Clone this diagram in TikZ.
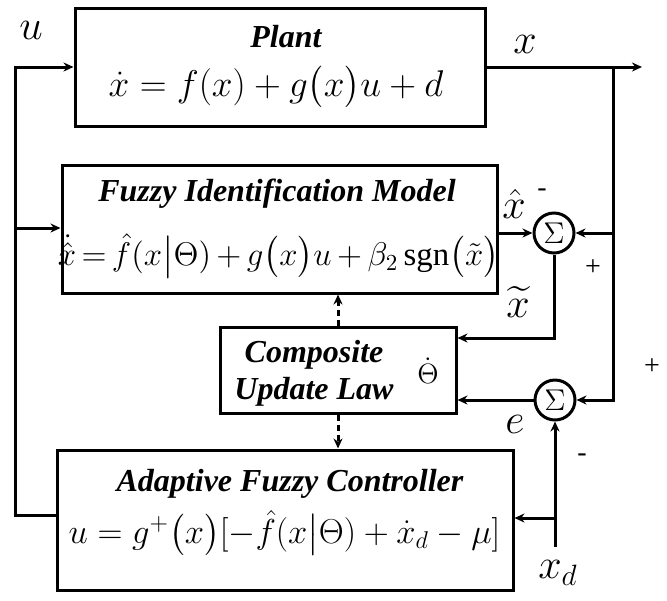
\RequirePackage{fix-cm}
\documentclass[tikz,border=0pt]{standalone}
\usepackage{amsmath}
\usepackage{fontspec}
\setmainfont{Liberation Serif}
\usetikzlibrary{arrows.meta,calc}
\begin{document}
\begin{tikzpicture}[x=0.5pt,y=-0.5pt,
  line width=1.5pt,
  box/.style={draw,rectangle,inner sep=0pt},
  sumnode/.style={draw,circle,minimum size=20pt,inner sep=0pt,font=\fontsize{15}{15}\selectfont},
  ttl/.style={font=\fontsize{16}{18.5}\selectfont\bfseries\itshape,inner sep=0pt},
  eqn/.style={font=\fontsize{18.6}{28}\selectfont,inner sep=0pt},
  eqnsmall/.style={font=\fontsize{16.4}{25}\selectfont,inner sep=0pt},
  eqnafc/.style={font=\fontsize{17.3}{26}\selectfont,inner sep=0pt},
  theta/.style={font=\fontsize{14}{14}\selectfont,inner sep=0pt},
  sig/.style={font=\fontsize{21}{21}\selectfont,inner sep=0pt},
  sgn/.style={font=\fontsize{14}{14}\selectfont,inner sep=0pt},
  arr/.style={-{Stealth[length=5pt,width=4.5pt]}},
  darr/.style={-{Stealth[length=5pt,width=4.5pt]},dash pattern=on 3pt off 2pt}
]
\useasboundingbox (0,0) rectangle (667,600);
% boxes
\node[box,minimum width=205pt,minimum height=59pt] (plant) at (280,67) {};
\node[box,minimum width=217.5pt,minimum height=64pt] (fim) at (279.5,229) {};
\node[box,minimum width=118pt,minimum height=43pt] (cul) at (338,370) {};
\node[box,minimum width=228pt,minimum height=70pt] (afc) at (285,520) {};
% texts
\node[ttl] (plantT) at (286,37) {Plant};
\node[eqn] (plantE) at (276,87) {$\dot{x}=f(x)+g\bigl(x\bigr)u+d$};
\node[ttl] (fimT) at (277,194) {Fuzzy Identification Model};
\node[eqnsmall] (fimE) at (278.5,256) {\thickmuskip=3mu\medmuskip=3mu $\dot{\hat{x}}=\hat{f}(x\bigr|\Theta)+g\bigl(x\bigr)u+\beta_2\,\mathrm{sgn}\bigl(\tilde{x}\bigr)$};
\node[ttl,align=center] (culT) at (314,373) {Composite\\[0pt]Update Law};
\node[theta] (culE) at (428,371) {$\dot{\Theta}$};
\node[ttl] (afcT) at (290,484) {Adaptive Fuzzy Controller};
\node[eqnafc] (afcE) at (284.5,533) {$u=g^{+}\bigl(x\bigr)[-\hat{f}(x\bigr|\Theta)+\dot{x}_{d}-\mu]$};
% summing junctions
\node[sumnode] (s1) at (554,233) {$\Sigma$};
\node[sumnode] (s2) at (555,400) {$\Sigma$};
% coordinates
\coordinate (xout) at (642,67);
\coordinate (b1) at (613,67);
\coordinate (lft) at (15,515);
\coordinate (lmid) at (15,228);
\coordinate (xd) at (555,547);
\coordinate (xdb) at (555,518);
% connectors
\draw[arr] (plant.east) -- (xout);
\draw[arr] (b1) |- (s1.east);
\draw[arr] (b1) |- (s2.east);
\draw[arr] (s1.west -| fim.east) -- (s1.west);
\draw[arr] (s1.south) |- ([yshift=16pt]cul.east);
\draw[arr] (s2.west) -- (s2.west -| cul.east);
\draw[arr] (xd) -- (s2.south);
\draw[arr] (xdb) -- (xdb -| afc.east);
\draw[arr] (lft -| afc.west) -- (lft) |- (plant.west);
\draw[arr] (lmid) -- (lmid -| fim.west);
\draw[darr] (cul.north) -- (cul.north |- fim.south);
\draw[darr] (cul.south) -- (cul.south |- afc.north);
% labels
\node[sig] (lu) at (31,30) {$u$};
\node[sig] (lx) at (525,44) {$x$};
\node[sig] (lxh) at (514,204) {$\hat{x}$};
\node[sgn] (m1) at (542,193) {-};
\node[sgn] (p1) at (593,268) {+};
\node[sig] (lxt) at (518,302) {$\widetilde{x}$};
\node[sgn] (p2) at (652,367) {+};
\node[sig] (le) at (515,424) {$e$};
\node[sgn] (m2) at (582,458) {-};
\node[sig] (lxd) at (558,573) {$x_{d}$};
\end{tikzpicture}
\end{document}
